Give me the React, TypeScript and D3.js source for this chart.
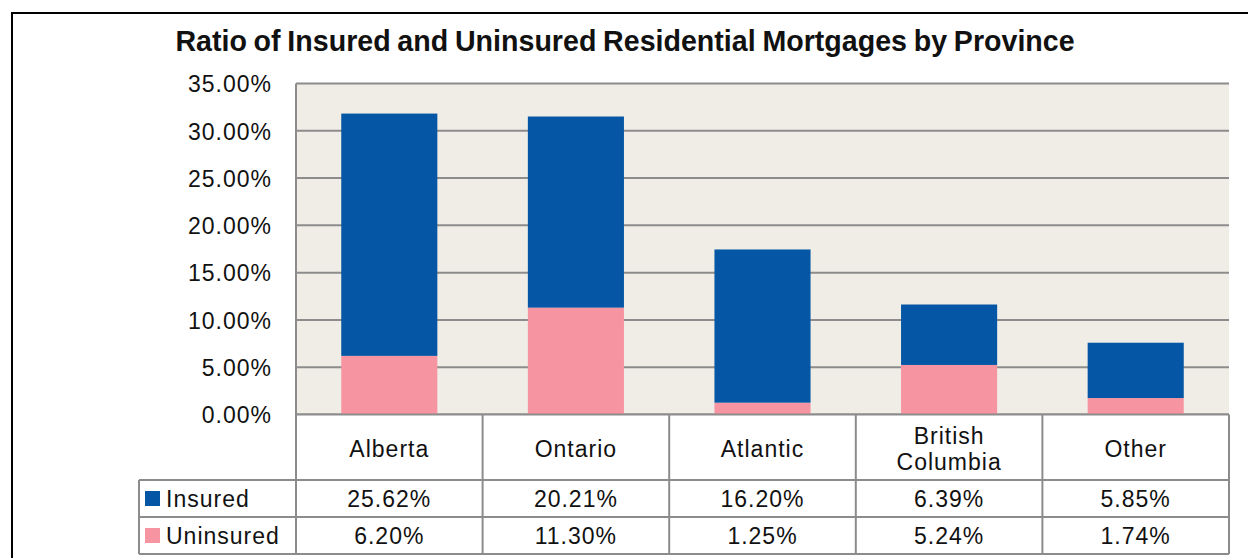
import React from "react";
import * as d3 from "d3";

const categories: string[][] = [["Alberta"], ["Ontario"], ["Atlantic"], ["British", "Columbia"], ["Other"]];
const insured: number[] = [25.62, 20.21, 16.2, 6.39, 5.85];
const uninsured: number[] = [6.2, 11.3, 1.25, 5.24, 1.74];
const insuredLabels: string[] = ["25.62%", "20.21%", "16.20%", "6.39%", "5.85%"];
const uninsuredLabels: string[] = ["6.20%", "11.30%", "1.25%", "5.24%", "1.74%"];
const yTicks: number[] = [0, 5, 10, 15, 20, 25, 30, 35];
const seriesNames: string[] = ["Insured", "Uninsured"];
const seriesColors: string[] = ["#0557A5", "#F794A2"];
const title = "Ratio of Insured and Uninsured Residential Mortgages by Province";

const W = 1248;
const H = 558;
const plotLeft = 296;
const plotRight = 1229;
const legendLeft = 139;
const rowCat = [414.5, 480];
const rowIns = [480, 517];
const rowUnins = [517, 554];

export default function App() {
  const keys = categories.map((c) => c.join(" "));
  const x = d3.scaleBand<string>().domain(keys).range([plotLeft, plotRight]).paddingInner(0.485).paddingOuter(0.2425);
  const col = d3.scaleBand<string>().domain(keys).range([plotLeft, plotRight]).padding(0);
  const y = d3.scaleLinear().domain([0, 35]).range([414.5, 83.5]);

  const stackData = keys.map((k, i) => ({ key: k, Uninsured: uninsured[i], Insured: insured[i] }));
  const stack = d3.stack<any>().keys(["Uninsured", "Insured"]);
  const layers = stack(stackData);
  const colorFor = (name: string) => seriesColors[seriesNames.indexOf(name)];

  const font = "'Liberation Sans', Arial, sans-serif";
  const txt = { fontFamily: font, fontSize: 23, letterSpacing: 1, fill: "#111" } as const;
  const gridColor = "#8C8C8C";
  const dy = "0.38em";

  return (
    <svg width={W} height={H} style={{ position: "absolute", left: 0, top: 0, background: "#fff" }}>
      <rect x={12} y={13} width={W} height={H} fill="#fff" stroke="#000" strokeWidth={2} />
      <text x={625} y={51} textAnchor="middle" fontFamily={font} fontWeight="bold" fontSize={28.6} wordSpacing={-1.2} fill="#111">
        {title}
      </text>
      {/* plot background */}
      <rect x={plotLeft} y={y(35)} width={plotRight - plotLeft} height={y(0) - y(35)} fill="#F0EDE7" />
      {/* gridlines */}
      {yTicks.map((t) => (
        <line key={t} x1={plotLeft} x2={plotRight} y1={y(t)} y2={y(t)} stroke={gridColor} strokeWidth={2} />
      ))}
      {/* y tick labels */}
      {yTicks.map((t) => (
        <text key={t} x={272} y={y(t)} dy={dy} textAnchor="end" {...txt}>
          {d3.format(".2f")(t) + "%"}
        </text>
      ))}
      {/* bars */}
      {layers.map((layer) => (
        <g key={layer.key} fill={colorFor(layer.key)}>
          {layer.map((d, i) => (
            <rect key={i} x={x(keys[i])} width={x.bandwidth()} y={y(d[1])} height={y(d[0]) - y(d[1])} />
          ))}
        </g>
      ))}
      {/* table background */}
      <rect x={plotLeft} y={rowCat[0]} width={plotRight - plotLeft} height={rowUnins[1] - rowCat[0]} fill="#fff" />
      <rect x={legendLeft} y={rowIns[0]} width={plotLeft - legendLeft} height={rowUnins[1] - rowIns[0]} fill="#fff" />
      {/* table lines */}
      <g stroke={gridColor} strokeWidth={2}>
        <line x1={plotLeft} x2={plotRight} y1={rowCat[0]} y2={rowCat[0]} />
        <line x1={legendLeft} x2={plotRight} y1={rowIns[0]} y2={rowIns[0]} />
        <line x1={legendLeft} x2={plotRight} y1={rowUnins[0]} y2={rowUnins[0]} />
        <line x1={legendLeft} x2={plotRight} y1={rowUnins[1]} y2={rowUnins[1]} />
        <line x1={legendLeft} x2={legendLeft} y1={rowIns[0]} y2={rowUnins[1]} />
        <line x1={plotLeft} x2={plotLeft} y1={y(35)} y2={rowUnins[1]} />
        {keys.map((k) => (
          <line key={k} x1={(col(k) as number) + col.bandwidth()} x2={(col(k) as number) + col.bandwidth()} y1={rowCat[0]} y2={rowUnins[1]} />
        ))}
      </g>
      {/* category labels */}
      {categories.map((c, i) => {
        const cx = (col(keys[i]) as number) + col.bandwidth() / 2;
        const cy = (rowCat[0] + rowCat[1]) / 2 + 1;
        const lh = 26;
        return (
          <text key={i} textAnchor="middle" {...txt}>
            {c.map((line, j) => (
              <tspan key={j} x={cx} y={cy + (j - (c.length - 1) / 2) * lh} dy={dy}>
                {line}
              </tspan>
            ))}
          </text>
        );
      })}
      {/* data rows */}
      {[insuredLabels, uninsuredLabels].map((labels, r) => {
        const row = r === 0 ? rowIns : rowUnins;
        return labels.map((l, i) => (
          <text key={r + "-" + i} x={(col(keys[i]) as number) + col.bandwidth() / 2} y={(row[0] + row[1]) / 2} dy={dy} textAnchor="middle" {...txt}>
            {l}
          </text>
        ));
      })}
      {/* legend */}
      {seriesNames.map((s, r) => {
        const row = r === 0 ? rowIns : rowUnins;
        const cy = (row[0] + row[1]) / 2;
        return (
          <g key={s}>
            <rect x={145} y={cy - 7.5} width={15} height={15} fill={seriesColors[r]} />
            <text x={166} y={cy} dy={dy} {...txt}>
              {s}
            </text>
          </g>
        );
      })}
    </svg>
  );
}
